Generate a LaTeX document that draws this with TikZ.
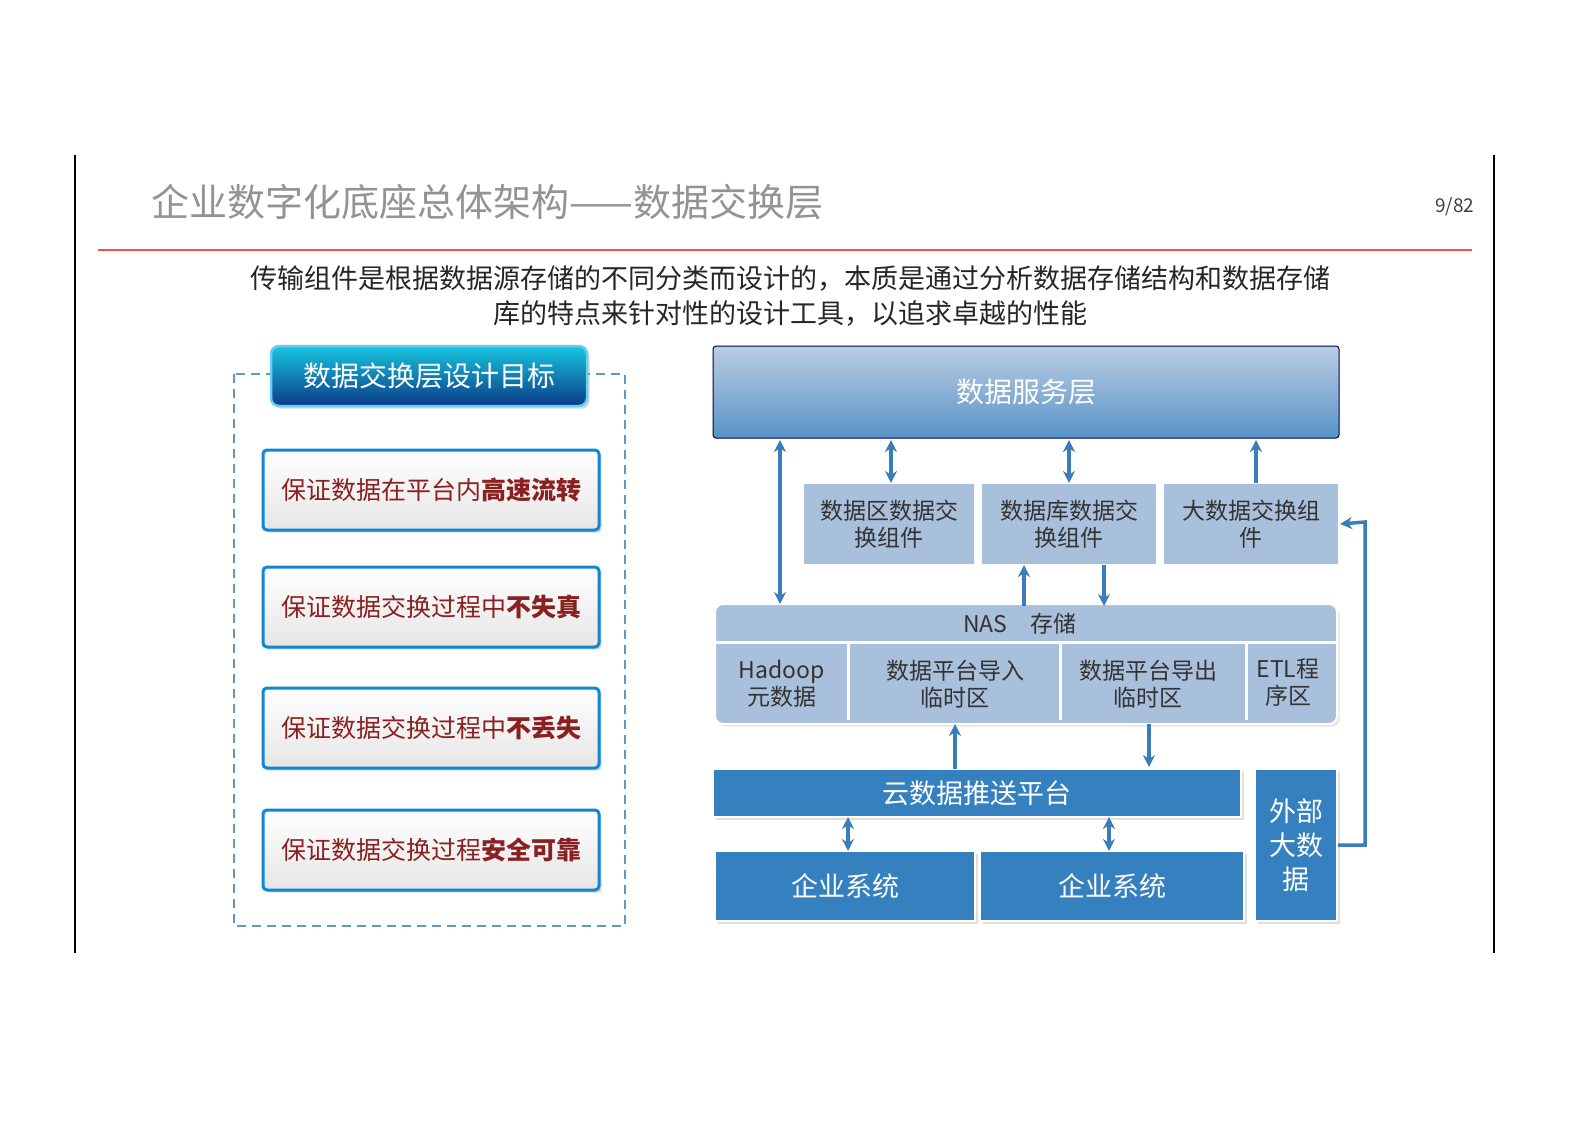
\documentclass[tikz,border=0pt]{standalone}
\usepackage{fontspec}
\setmainfont{Noto Sans CJK SC}
\usetikzlibrary{arrows.meta,shadows}
\definecolor{lb}{HTML}{A9C0DC}
\definecolor{db}{HTML}{3580BE}
\definecolor{ar}{HTML}{3A7DB8}
\definecolor{dr}{HTML}{8B2020}
\definecolor{hdtop}{HTML}{18C6E0}
\definecolor{hdbot}{HTML}{0A3A86}
\tikzset{
 lbox/.style={draw=white,line width=2pt,fill=lb,font=\fontsize{23}{27}\selectfont,align=center,text=black!80,inner sep=0},
 dbox/.style={draw=white,line width=2pt,fill=db,font=\fontsize{27}{34}\selectfont,align=center,text=white,inner sep=0,drop shadow={opacity=0.25}},
 goal/.style={draw=cyan!70!blue,line width=3pt,rounded corners=4pt,top color=white,bottom color=gray!20,font=\fontsize{25}{30}\selectfont,text=dr,minimum width=336pt,minimum height=80pt,drop shadow={opacity=0.3}},
 arr/.style={ar,line width=3.5pt,-{Stealth[length=12pt,width=12pt]}},
 darr/.style={ar,line width=3.5pt,{Stealth[length=12pt,width=12pt]}-{Stealth[length=12pt,width=12pt]}}
}
\begin{document}
\begin{tikzpicture}[x=1pt,y=-1pt]
\fill[white] (0,0) rectangle (1587,1122);
\draw[line width=2pt] (75,155) -- (75,953) (1494,155) -- (1494,953);
\node[anchor=west,text=gray!85,font=\fontsize{38}{42}\selectfont] (title) at (148,202) {企业数字化底座总体架构——数据交换层};
\node[anchor=east,text=black!75,font=\fontsize{19}{22}\selectfont] (pg) at (1478,207) {9/82};
\draw[red!70,line width=2pt] (98,250) -- (1472,250);
\node[align=center,font=\fontsize{27}{35}\selectfont,text=black!85] (intro) at (790,296) {传输组件是根据数据源存储的不同分类而设计的，本质是通过分析数据存储结构和数据存储\\库的特点来针对性的设计工具，以追求卓越的性能};
% left panel
\draw[dash pattern=on 9pt off 6pt,line width=2.5pt,draw=ar!80] (234,374) rectangle (625,926);
\node[draw=cyan!60,line width=2.5pt,rounded corners=8pt,top color=hdtop,bottom color=hdbot,text=white,font=\fontsize{28}{32}\selectfont,minimum width=316pt,minimum height=60pt,drop shadow={opacity=0.3}] (head) at (429,376) {数据交换层设计目标};
\node[goal] (g1) at (431,490) {保证数据在平台内\textbf{高速流转}};
\node[goal] (g2) at (431,607) {保证数据交换过程中\textbf{不失真}};
\node[goal] (g3) at (431,728) {保证数据交换过程中\textbf{不丢失}};
\node[goal] (g4) at (431,850) {保证数据交换过程\textbf{安全可靠}};
% right
\node[draw=blue!30!black,line width=1pt,rounded corners=3pt,top color=lb!80,bottom color=db!70!lb,text=white,font=\fontsize{28}{32}\selectfont,minimum width=626pt,minimum height=92pt] (svc) at (1026,392) {数据服务层};
\node[lbox,minimum width=172pt,minimum height=82pt] (c1) at (889,524) {数据区数据交\\换组件};
\node[lbox,minimum width=176pt,minimum height=82pt] (c2) at (1069,524) {数据库数据交\\换组件};
\node[lbox,minimum width=176pt,minimum height=82pt] (c3) at (1251,524) {大数据交换组\\件};
\node[lbox,rounded corners=8pt,minimum width=622pt,minimum height=120pt,drop shadow={opacity=0.2}] (nasbg) at (1026,664) {};
\node[lbox,draw=none] (nas) at (1020,624) {NAS\quad 存储};
\draw[white,line width=3pt] (716,642) -- (1336,642);
\node[lbox,draw=none,fill=none] (h1) at (782,684) {Hadoop\\元数据};
\node[lbox,draw=none,fill=none] (h2) at (955,684) {数据平台导入\\临时区};
\node[lbox,draw=none,fill=none] (h3) at (1148,684) {数据平台导出\\临时区};
\node[lbox,draw=none,fill=none] (h4) at (1288,682) {ETL程\\序区};
\draw[white,line width=3pt] (848,642) -- (848,720) (1060,642) -- (1060,720) (1246,642) -- (1246,720);
\node[dbox,minimum width=528pt,minimum height=48pt] (cloud) at (977,793) {云数据推送平台};
\node[dbox,minimum width=260pt,minimum height=70pt] (e1) at (845,886) {企业系统};
\node[dbox,minimum width=264pt,minimum height=70pt] (e2) at (1112,886) {企业系统};
\node[dbox,minimum width=82pt,minimum height=152pt] (ext) at (1296,845) {外部\\大数\\据};
% arrows
\draw[darr] (780,440) -- (780,604);
\draw[darr] (891,440) -- (891,483);
\draw[darr] (1069,440) -- (1069,483);
\draw[arr] (1256,483) -- (1256,440);
\draw[arr] (1024,606) -- (1024,565);
\draw[arr] (1104,565) -- (1104,606);
\draw[arr] (955,769) -- (955,724);
\draw[arr] (1149,724) -- (1149,767);
\draw[darr] (848,817) -- (848,851);
\draw[darr] (1109,817) -- (1109,851);
\draw[arr] (ext.east) -- (1365,845) -- (1365,522) -- (c3.east);
\pgfresetboundingbox
\useasboundingbox (0,0) rectangle (1587,1122);
\end{tikzpicture}
\end{document}
